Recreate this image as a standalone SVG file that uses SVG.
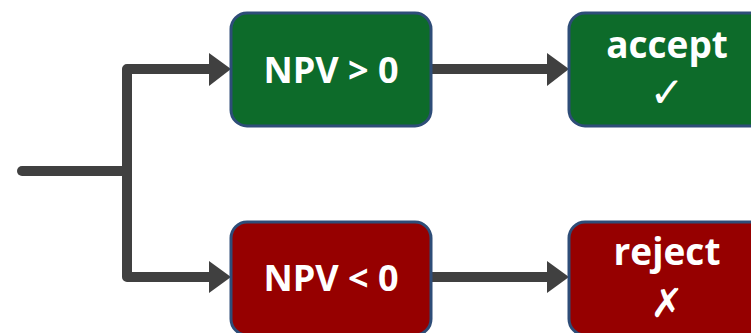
<svg xmlns="http://www.w3.org/2000/svg" width="751" height="333" viewBox="0 0 751 333">
<defs>
<style>
.box{stroke:#2E4D78;stroke-width:3}
.g{fill:#0D6B2A}
.r{fill:#960000}
.t{fill:#fff;font-family:"Open Sans","Liberation Sans",sans-serif;font-weight:bold;text-anchor:middle}
.sym{fill:#fff;font-family:"DejaVu Sans",sans-serif;text-anchor:middle}
.c{fill:none;stroke:#404040;stroke-width:10;stroke-linecap:round;stroke-linejoin:round}
.ah{fill:#404040}
</style>
</defs>
<rect width="751" height="333" fill="#fff"/>
<g id="connectors">
<path class="c" d="M22 171 H127"/>
<path class="c" d="M212 69 H127 V277 H212"/>
<polygon class="ah" points="209,53 231,69 209,86"/>
<polygon class="ah" points="209,261 231,277 209,293"/>
<path class="c" d="M429 69 H550"/>
<polygon class="ah" points="547,53 569,69 547,86"/>
<path class="c" d="M429 277 H550"/>
<polygon class="ah" points="547,261 569,277 547,293"/>
</g>
<g id="npv-pos">
<rect class="box g" x="231" y="13" width="200" height="113" rx="16"/>
<text class="t" x="331" y="83" font-size="36">NPV &gt; 0</text>
</g>
<g id="npv-neg">
<rect class="box r" x="231" y="222" width="200" height="113" rx="16"/>
<text class="t" x="331" y="291" font-size="36">NPV &lt; 0</text>
</g>
<g id="accept">
<rect class="box g" x="569" y="13" width="200" height="113" rx="16"/>
<text class="t" x="667" y="58" font-size="37">accept</text>
<text class="sym" x="667" y="107" font-size="42">✓</text>
</g>
<g id="reject">
<rect class="box r" x="569" y="222" width="200" height="113" rx="16"/>
<text class="t" x="667" y="265" font-size="37">reject</text>
<text class="sym" x="667" y="317" font-size="40">✗</text>
</g>
</svg>
